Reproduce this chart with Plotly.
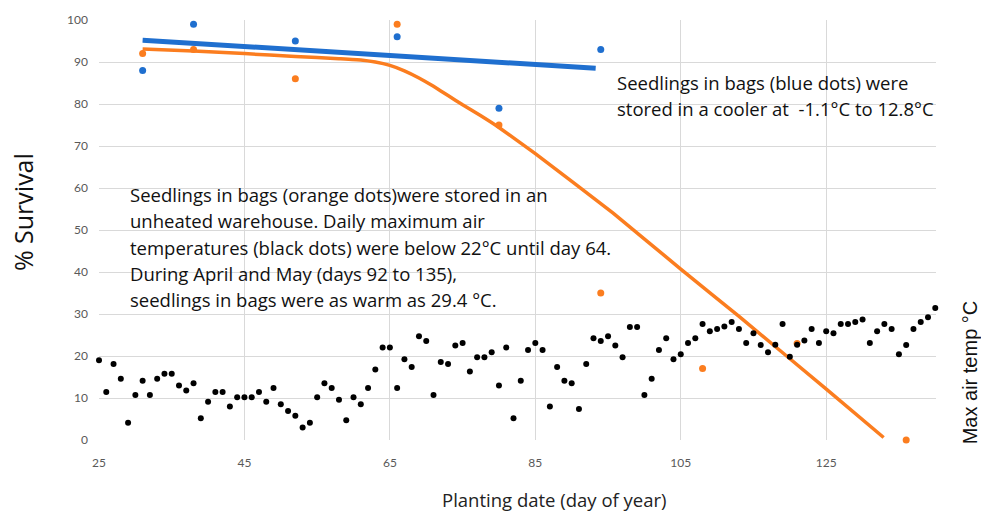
import plotly.graph_objects as go

# ---- data ----
temp_days = list(range(25, 141))
max_air_temp = [19.0, 11.4, 18.1, 14.6, 4.1, 10.7, 14.1, 10.7, 14.6, 15.8,
                15.8, 13.0, 11.8, 13.5, 5.2, 9.1, 11.4, 11.4, 8.0, 10.2,
                10.2, 10.2, 11.4, 9.1, 12.4, 8.5, 6.9, 5.8, 3.0, 4.1,
                10.2, 13.5, 12.4, 9.6, 4.7, 10.2, 8.5, 12.4, 16.8, 22.0,
                22.0, 12.4, 19.2, 17.4, 24.7, 23.6, 10.7, 18.6, 18.1, 22.5,
                23.1, 16.3, 19.7, 19.7, 20.9, 13.0, 22.0, 5.2, 14.1, 21.4,
                23.1, 21.4, 8.0, 17.4, 14.1, 13.5, 7.4, 18.1, 24.2, 23.6,
                24.7, 22.5, 19.7, 26.9, 26.9, 10.7, 14.6, 21.4, 24.2, 19.2,
                20.4, 23.1, 24.2, 27.6, 25.9, 26.4, 27.0, 28.1, 26.4, 23.1,
                25.4, 22.6, 20.9, 22.7, 27.6, 19.8, 22.7, 23.7, 26.4, 23.1,
                25.9, 25.4, 27.6, 27.6, 28.1, 28.7, 23.1, 25.9, 27.6, 26.4,
                20.4, 22.6, 26.4, 28.1, 29.2, 31.4]

blue_days = [31, 38, 52, 66, 80, 94]
blue_survival = [88, 99, 95, 96, 79, 93]

orange_days = [31, 38, 52, 66, 80, 94, 108, 121, 136]
orange_survival = [92, 93, 86, 99, 75, 35, 17, 23, 0]

blue_trend_days = [31, 93.3]
blue_trend_vals = [95.2, 88.5]

orange_trend_days = [31, 38, 45, 52, 58, 61, 63, 65, 67, 69, 71, 73, 75,
                     77.4, 80, 85, 95.7, 105, 113.1, 125.1, 132.9]
orange_trend_vals = [93.1, 92.6, 92.0, 91.3, 90.8, 90.5, 90.0, 89.2, 87.9, 86.2,
                     84.2, 82.0, 79.8, 77.3, 74.4, 68.2, 54.0, 40.7, 29.3, 12.0,
                     0.6]

blue_note = ["Seedlings in bags (blue dots) were",
             "stored in a cooler at  -1.1°C to 12.8°C"]
orange_note = ["Seedlings in bags (orange dots)were stored in an",
               "unheated warehouse. Daily maximum air",
               "temperatures (black dots) were below 22°C until day 64.",
               "During April and May (days 92 to 135),",
               "seedlings in bags were as warm as 29.4 °C."]

BLUE = "#1f6fcf"
ORANGE = "#fb7d1f"
FONT = "Open Sans"

fig = go.Figure()

fig.add_trace(go.Scatter(x=temp_days, y=max_air_temp, mode="markers",
                         marker=dict(color="black", size=6), yaxis="y2",
                         cliponaxis=False, name="Max air temp"))
fig.add_trace(go.Scatter(x=blue_trend_days, y=blue_trend_vals, mode="lines",
                         line=dict(color=BLUE, width=5), name="Cooler trend"))
fig.add_trace(go.Scatter(x=orange_trend_days, y=orange_trend_vals, mode="lines",
                         line=dict(color=ORANGE, width=3.5, shape="spline", smoothing=0.3),
                         name="Warehouse trend"))
fig.add_trace(go.Scatter(x=blue_days, y=blue_survival, mode="markers",
                         marker=dict(color=BLUE, size=7), cliponaxis=False,
                         name="Cooler"))
fig.add_trace(go.Scatter(x=orange_days, y=orange_survival, mode="markers",
                         marker=dict(color=ORANGE, size=7), cliponaxis=False,
                         name="Warehouse"))

L, R, T, B = 99, 45, 18, 71
W, H = 981, 511
pw = W - L - R
ph = H - T - B


def px_to_paper(px, py):
    return (px - L) / pw, (H - B - py) / ph


annotations = []
for i, line in enumerate(blue_note):
    x, y = px_to_paper(617, 80.7 + i * 26)
    annotations.append(dict(text=line, x=x, y=y, xref="paper", yref="paper",
                            xanchor="left", yanchor="middle", showarrow=False,
                            xshift=-2, font=dict(family=FONT, size=18.5, color="#111")))
for i, line in enumerate(orange_note):
    x, y = px_to_paper(130, 193.3 + i * 26.5)
    annotations.append(dict(text=line, x=x, y=y, xref="paper", yref="paper",
                            xanchor="left", yanchor="middle", showarrow=False,
                            xshift=-2, font=dict(family=FONT, size=18.5, color="#111")))

x, y = px_to_paper(23, 211)
annotations.append(dict(text="% Survival", x=x, y=y, xref="paper", yref="paper",
                        textangle=-90, showarrow=False, xanchor="center", yanchor="middle",
                        font=dict(family=FONT, size=25, color="#111")))
x, y = px_to_paper(970, 372)
annotations.append(dict(text="Max air temp °C", x=x, y=y, xref="paper", yref="paper",
                        textangle=-90, showarrow=False, xanchor="center", yanchor="middle",
                        font=dict(family="Liberation Sans", size=20, color="#111")))
x, y = px_to_paper(554, 500)
annotations.append(dict(text="Planting date (day of year)", x=x, y=y, xref="paper",
                        yref="paper", showarrow=False, xanchor="center", yanchor="middle",
                        font=dict(family=FONT, size=18.5, color="#222")))

fig.update_layout(
    width=W, height=H,
    margin=dict(l=L, r=R, t=T, b=B),
    paper_bgcolor="white", plot_bgcolor="white",
    showlegend=False,
    xaxis=dict(range=[25, 140.1], tick0=25, dtick=20, showgrid=True,
               gridcolor="#d9d9d9", gridwidth=1, zeroline=False, showline=False,
               ticks="", ticklabelstandoff=14,
               tickfont=dict(family="Lato", size=12, color="#595959")),
    yaxis=dict(range=[0, 100], tick0=0, dtick=10, showgrid=True,
               gridcolor="#d9d9d9", gridwidth=1, zeroline=False, showline=False,
               ticks="", ticklabelstandoff=10,
               tickfont=dict(family="Lato", size=12, color="#595959")),
    yaxis2=dict(range=[0, 100], overlaying="y", side="right", showgrid=False,
                showticklabels=False, zeroline=False, showline=False, ticks=""),
    annotations=annotations,
)

fig.write_html("out.html")
